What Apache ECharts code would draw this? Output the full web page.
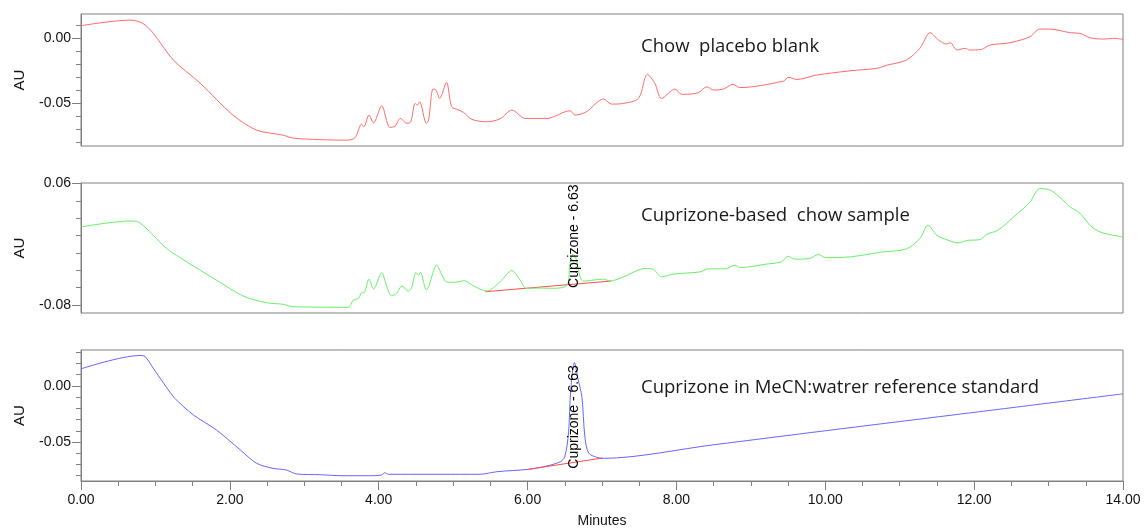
<!DOCTYPE html>
<html>
<head>
<meta charset="utf-8">
<script src="https://cdn.jsdelivr.net/npm/echarts@6/dist/echarts.min.js"></script>
<style>
  html, body { margin: 0; padding: 0; background: #fff; }
  #chart { width: 1144px; height: 529px; }
</style>
</head>
<body>
<div id="chart"></div>
<script>
// chromatogram traces, time in minutes, absorbance in AU
const blankT = [0, 0.66, 0.83, 0.97, 1.24, 1.60, 2.04, 2.36, 2.71, 2.85, 3.21, 3.57, 3.68, 3.77, 3.80, 3.87, 3.93, 4.04, 4.15, 4.22, 4.29, 4.38, 4.43, 4.49, 4.52, 4.55, 4.64, 4.67, 4.73, 4.77, 4.82, 4.91, 4.98, 5.05, 5.14, 5.25, 5.45, 5.63, 5.79, 5.97, 6.26, 6.57, 6.64, 6.79, 7.02, 7.13, 7.29, 7.49, 7.61, 7.71, 7.80, 7.98, 8.07, 8.29, 8.41, 8.50, 8.63, 8.76, 8.85, 9.44, 9.50, 9.62, 9.88, 10.33, 10.69, 10.82, 11.09, 11.27, 11.41, 11.52, 11.63, 11.68, 11.77, 11.88, 11.94, 12.10, 12.21, 12.48, 12.75, 12.88, 13.02, 13.29, 13.42, 13.56, 13.74, 13.87, 14.00];
const blankAU = [0.0095, 0.0138, 0.0113, 0.0038, -0.0169, -0.0346, -0.0592, -0.0708, -0.0746, -0.0769, -0.0781, -0.0785, -0.0767, -0.0662, -0.0682, -0.0592, -0.0652, -0.0521, -0.0687, -0.0677, -0.0618, -0.0656, -0.0644, -0.0502, -0.0515, -0.0490, -0.0656, -0.0631, -0.0392, -0.0400, -0.0464, -0.0341, -0.0528, -0.0548, -0.0572, -0.0625, -0.0644, -0.0621, -0.0554, -0.0618, -0.0618, -0.0559, -0.0592, -0.0567, -0.0469, -0.0508, -0.0502, -0.0464, -0.0279, -0.0348, -0.0464, -0.0392, -0.0433, -0.0421, -0.0375, -0.0400, -0.0392, -0.0356, -0.0381, -0.0331, -0.0302, -0.0318, -0.0285, -0.0252, -0.0233, -0.0210, -0.0169, -0.0079, 0.0041, -0.0015, -0.0046, -0.0036, -0.0092, -0.0079, -0.0092, -0.0087, -0.0054, -0.0036, 0.0010, 0.0069, 0.0069, 0.0041, 0.0036, 0.0002, -0.0008, -0.0002, -0.0010];

const sampleT = [0, 0.66, 0.77, 0.97, 1.15, 1.42, 1.82, 2.18, 2.49, 2.72, 2.85, 3.59, 3.66, 3.73, 3.77, 3.80, 3.87, 3.93, 4.04, 4.11, 4.17, 4.24, 4.31, 4.40, 4.44, 4.50, 4.53, 4.56, 4.64, 4.67, 4.78, 4.85, 4.91, 5.02, 5.15, 5.27, 5.45, 5.63, 5.79, 5.90, 5.98, 6.17, 6.35, 6.53, 6.57, 6.61, 6.65, 6.71, 6.75, 6.88, 7.02, 7.11, 7.29, 7.58, 7.69, 7.80, 7.96, 8.32, 8.43, 8.65, 8.79, 8.85, 9.21, 9.41, 9.50, 9.59, 9.79, 9.91, 10.00, 10.20, 10.78, 11.09, 11.27, 11.38, 11.50, 11.65, 11.79, 11.90, 12.08, 12.17, 12.32, 12.53, 12.75, 12.88, 13.00, 13.15, 13.29, 13.42, 13.58, 13.73, 14.00];
const sampleAU = [0.0099, 0.0167, 0.0156, 0.0003, -0.0149, -0.0303, -0.0513, -0.0697, -0.0773, -0.0792, -0.0819, -0.0826, -0.0742, -0.0723, -0.0659, -0.0659, -0.0502, -0.0616, -0.0429, -0.0590, -0.0693, -0.0666, -0.0582, -0.0639, -0.0608, -0.0425, -0.0456, -0.0425, -0.0628, -0.0590, -0.0341, -0.0456, -0.0533, -0.0539, -0.0521, -0.0578, -0.0639, -0.0533, -0.0404, -0.0513, -0.0608, -0.0605, -0.0608, -0.0570, -0.0321, -0.0215, -0.0260, -0.0490, -0.0525, -0.0513, -0.0502, -0.0524, -0.0475, -0.0379, -0.0390, -0.0475, -0.0444, -0.0418, -0.0383, -0.0383, -0.0341, -0.0370, -0.0329, -0.0303, -0.0238, -0.0272, -0.0264, -0.0218, -0.0253, -0.0253, -0.0188, -0.0154, -0.0035, 0.0118, 0.0003, -0.0054, -0.0085, -0.0057, -0.0046, 0.0015, 0.0061, 0.0213, 0.0385, 0.0539, 0.0531, 0.0443, 0.0328, 0.0259, 0.0099, 0.0030, -0.0016];

const standardT = [0, 0.79, 0.86, 0.97, 1.11, 1.26, 1.51, 1.82, 2.14, 2.36, 2.58, 2.76, 2.90, 3.21, 3.52, 3.84, 4.04, 4.08, 4.13, 4.29, 5.36, 5.59, 6.01, 6.26, 6.44, 6.50, 6.55, 6.58, 6.63, 6.68, 6.73, 6.77, 6.82, 6.93, 7.02, 8.50, 10.00, 12.00, 14.00];
const standardAU = [0.0152, 0.0271, 0.0262, 0.0158, 0.0024, -0.0110, -0.0259, -0.0393, -0.0571, -0.0690, -0.0735, -0.0750, -0.0786, -0.0792, -0.0801, -0.0801, -0.0795, -0.0774, -0.0788, -0.0788, -0.0788, -0.0765, -0.0744, -0.0714, -0.0676, -0.0631, -0.0420, -0.0036, 0.0208, 0.0054, -0.0096, -0.0453, -0.0598, -0.0637, -0.0646, -0.0525, -0.0400, -0.0236, -0.0071];

// integration baselines under the cuprizone peak
const sampleBaseT = [5.43, 7.12];
const sampleBaseAU = [-0.0647, -0.0524];
const standardBaseT = [6.01, 7.01];
const standardBaseAU = [-0.0744, -0.0643];

const peakName = 'Cuprizone - 6.63';
const peakTime = 6.63;

const titles = ['Chow  placebo blank', 'Cuprizone-based  chow sample', 'Cuprizone in MeCN:watrer reference standard'];

// y ranges and ticks per panel
const yMin = [-0.083, -0.0892, -0.0848];
const yMax = [0.0185, 0.0605, 0.032];
const yTicks = [
  [0.01, 0, -0.01, -0.02, -0.03, -0.04, -0.05, -0.06, -0.07, -0.08],
  [0.06, 0.04, 0.02, 0, -0.02, -0.04, -0.06, -0.08],
  [0.03, 0.02, 0.01, 0, -0.01, -0.02, -0.03, -0.04, -0.05, -0.06, -0.07, -0.08]
];
const yLabels = [[0, -0.05], [0.06, -0.08], [0, -0.05]];

const xMajor = 2;
const xMinor = 0.5;

function zip(t, v) {
  return t.map((x, i) => [x, v[i]]);
}

const chart = echarts.init(document.getElementById('chart'));

const gridTops = [14, 183, 350];
const gridHeights = [132, 130, 131];
const axisColor = '#808080';
const labelFont = { fontFamily: 'Liberation Sans', fontSize: 14, color: '#111' };

var grids = gridTops.map((t, i) => ({
  left: 81, width: 1042, top: t, height: gridHeights[i],
  show: true, borderColor: axisColor, borderWidth: 1, backgroundColor: 'transparent'
}));

var xAxes = [
  { gridIndex: 0, type: 'value', min: 0, max: 14, show: false },
  { gridIndex: 1, type: 'value', min: 0, max: 14, show: false },
  {
    gridIndex: 2, type: 'value', min: 0, max: 14, interval: xMajor, position: 'bottom',
    axisLine: { onZero: false, lineStyle: { color: axisColor } },
    axisTick: { length: 9, lineStyle: { color: axisColor } },
    axisLabel: Object.assign({ margin: 12, formatter: v => v.toFixed(2) }, labelFont),
    splitLine: { show: false },
    name: 'Minutes', nameLocation: 'middle', nameGap: 33,
    nameTextStyle: { fontFamily: 'Liberation Sans', fontSize: 14, color: '#111' }
  },
  {
    gridIndex: 2, type: 'value', min: 0, max: 14, interval: xMinor, position: 'bottom',
    axisLine: { show: false, onZero: false },
    axisTick: { length: 5, lineStyle: { color: axisColor } },
    axisLabel: { show: false },
    splitLine: { show: false }
  }
];

var yAxes = [];
for (let i = 0; i < 3; i++) {
  yAxes.push({
    gridIndex: i, type: 'value', min: yMin[i], max: yMax[i], position: 'left',
    axisLine: { show: true, onZero: false, lineStyle: { color: axisColor } },
    axisTick: { show: true, length: 9, customValues: yLabels[i], lineStyle: { color: axisColor } },
    axisLabel: Object.assign({ margin: 10, customValues: yLabels[i], formatter: v => v.toFixed(2) }, labelFont),
    splitLine: { show: false },
    name: 'AU', nameLocation: 'middle', nameGap: 54,
    nameTextStyle: { fontFamily: 'Liberation Sans', fontSize: 15, color: '#111' }
  });
  yAxes.push({
    gridIndex: i, type: 'value', min: yMin[i], max: yMax[i], position: 'left',
    axisLine: { show: false, onZero: false },
    axisTick: { show: true, length: 5, customValues: yTicks[i], lineStyle: { color: axisColor } },
    axisLabel: { show: false },
    splitLine: { show: false }
  });
}

const peakLabel = {
  show: true, formatter: peakName, rotate: 90, position: 'inside',
  fontFamily: 'Liberation Sans', fontSize: 14, color: '#000'
};

const traceStyle = { smooth: 0.3, showSymbol: false };

var option = {
  animation: false,
  backgroundColor: '#fff',
  grid: grids,
  xAxis: xAxes,
  yAxis: yAxes,
  graphic: titles.map((txt, i) => ({
    type: 'text', left: 641, top: [37, 206, 378][i],
    style: { text: txt, font: '18.5px "Open Sans"', fill: '#1a1a1a' }
  })),
  series: [
    Object.assign({
      type: 'line', xAxisIndex: 0, yAxisIndex: 0, data: zip(blankT, blankAU),
      lineStyle: { color: '#ff6a6a', width: 1 }
    }, traceStyle),
    {
      type: 'line', xAxisIndex: 1, yAxisIndex: 2, data: zip(sampleBaseT, sampleBaseAU),
      showSymbol: false, lineStyle: { color: '#ff4d4d', width: 1 }
    },
    Object.assign({
      type: 'line', xAxisIndex: 1, yAxisIndex: 2, data: zip(sampleT, sampleAU),
      lineStyle: { color: '#66f066', width: 1 },
      markPoint: {
        symbol: 'circle', symbolSize: 0, silent: true,
        label: peakLabel,
        data: [{ coord: [peakTime, -0.0008] }]
      }
    }, traceStyle),
    Object.assign({
      type: 'line', xAxisIndex: 2, yAxisIndex: 4, data: zip(standardT, standardAU),
      lineStyle: { color: '#6666ff', width: 1 },
      markPoint: {
        symbol: 'circle', symbolSize: 0, silent: true,
        label: peakLabel,
        data: [{ coord: [peakTime, -0.0277] }]
      }
    }, traceStyle),
    {
      type: 'line', xAxisIndex: 2, yAxisIndex: 4, data: zip(standardBaseT, standardBaseAU),
      showSymbol: false, lineStyle: { color: '#ff4d4d', width: 1 }
    }
  ]
};

chart.setOption(option);
</script>
</body>
</html>
